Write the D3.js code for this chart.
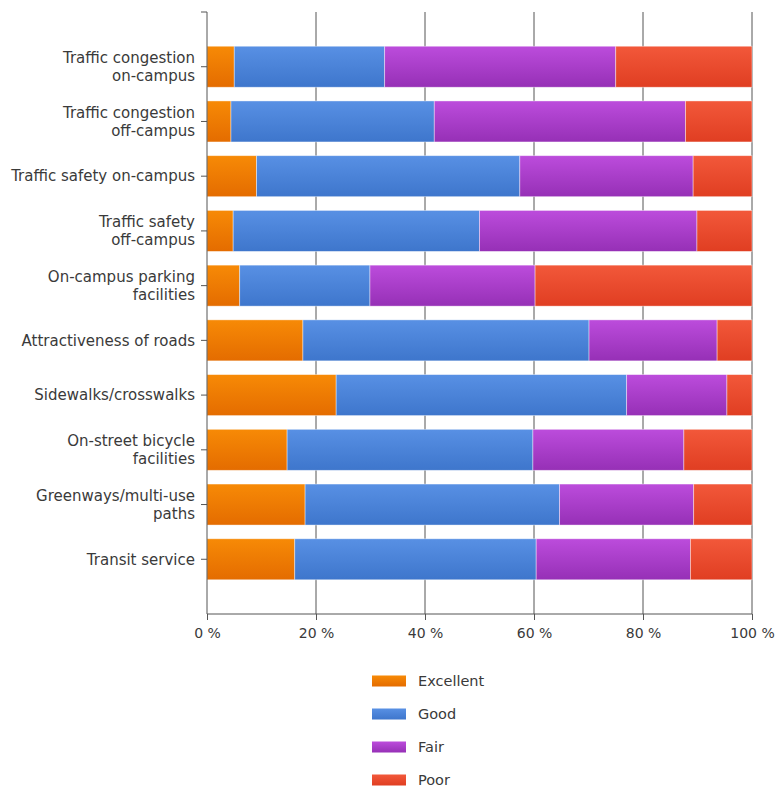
<!DOCTYPE html>
<html><head><meta charset="utf-8">
<script src="https://cdn.jsdelivr.net/npm/d3@7"></script>
<style>body{margin:0;background:#fff;} svg{display:block;} text{font-family:"DejaVu Sans",Verdana,sans-serif;}</style>
</head><body><svg id="c" width="775" height="791"></svg>
<script>
const categories = [
  ["Traffic congestion","on-campus"],
  ["Traffic congestion","off-campus"],
  ["Traffic safety on-campus"],
  ["Traffic safety","off-campus"],
  ["On-campus parking","facilities"],
  ["Attractiveness of roads"],
  ["Sidewalks/crosswalks"],
  ["On-street bicycle","facilities"],
  ["Greenways/multi-use","paths"],
  ["Transit service"]
];
const seriesNames = ["Excellent","Good","Fair","Poor"];
const excellent = [5.0, 4.4, 9.1, 4.8, 6.0, 17.6, 23.7, 14.7, 18.0, 16.1];
const good      = [27.6, 37.3, 48.3, 45.2, 23.9, 52.5, 53.3, 45.1, 46.7, 44.3];
const fair      = [42.4, 46.1, 31.8, 39.9, 30.3, 23.5, 18.4, 27.7, 24.6, 28.3];
const poor      = [25.0, 12.2, 10.8, 10.1, 39.8, 6.4, 4.6, 12.5, 10.7, 11.3];
const xTicks = [0, 20, 40, 60, 80, 100];
const colorsTop = ["#f78a06","#5890e4","#bc4cdc","#f2583a"];
const colorsBot = ["#e46c00","#3e76cc","#9630b6","#e03e22"];

(function(){
const svg = d3.select("#c");
const pl = 207, pr = 752, pt = 12, pb = 614;
const x = d3.scaleLinear().domain([0,100]).range([pl,pr]);
const idx = d3.range(categories.length);
const y = d3.scalePoint().domain([-1, ...idx, categories.length]).range([pt,pb]);
const barH = 41;
const font = "DejaVu Sans, Verdana, sans-serif";

const defs = svg.append("defs");
seriesNames.forEach((s,i)=>{
  const g = defs.append("linearGradient").attr("id","g"+i).attr("x1",0).attr("y1",0).attr("x2",0).attr("y2",1);
  g.append("stop").attr("offset","0%").attr("stop-color",colorsTop[i]);
  g.append("stop").attr("offset","100%").attr("stop-color",colorsBot[i]);
});

// gridlines
svg.append("g").selectAll("line").data(xTicks.slice(1)).join("line")
  .attr("x1",d=>x(d)).attr("x2",d=>x(d)).attr("y1",pt).attr("y2",pb)
  .attr("stroke","#555").attr("stroke-width",1);

const stackData = idx.map(i=>({i, Excellent:excellent[i], Good:good[i], Fair:fair[i], Poor:poor[i]}));
const stack = d3.stack().keys(seriesNames)(stackData);

svg.append("g").selectAll("g").data(stack).join("g")
  .attr("fill",(d,k)=>"url(#g"+k+")")
  .selectAll("rect").data(d=>d).join("rect")
  .attr("x",d=>x(d[0])).attr("width",d=>Math.max(0,x(Math.min(100,d[1]))-x(d[0])))
  .attr("y",d=>y(d.data.i)-barH/2).attr("height",barH)
  .attr("stroke","rgba(255,255,255,0.5)").attr("stroke-width",0.8);

// y axis
const yAxis = svg.append("g");
yAxis.append("line").attr("x1",pl).attr("x2",pl).attr("y1",pt).attr("y2",pb).attr("stroke","#555");
yAxis.append("line").attr("x1",pl-6).attr("x2",pl).attr("y1",pt).attr("y2",pt).attr("stroke","#555");
idx.forEach(i=>{
  const cy = y(i);
  yAxis.append("line").attr("x1",pl-6).attr("x2",pl).attr("y1",cy).attr("y2",cy).attr("stroke","#555");
  const lines = categories[i];
  const t = yAxis.append("text").attr("text-anchor","end").attr("font-size",15).attr("fill","#3a3a3a");
  lines.forEach((ln,k)=>{
    const off = lines.length===1 ? 0 : (k===0 ? -9 : 9);
    t.append("tspan").attr("x",195).attr("y",cy+off).attr("dy","0.35em").text(ln);
  });
});

// x axis
const xAxis = svg.append("g").attr("transform",`translate(0,${pb})`)
  .call(d3.axisBottom(x).tickValues(xTicks).tickSize(6).tickFormat(d=>d+" %"));
xAxis.select(".domain").attr("stroke","#555").attr("d",`M${pl},0H${pr}`);
xAxis.selectAll(".tick line").attr("stroke","#555");
xAxis.selectAll(".tick text").attr("font-size",14).attr("fill","#3a3a3a").attr("font-family",font).attr("dy","1.05em");

// legend
const lg = svg.append("g");
seriesNames.forEach((s,i)=>{
  const ly = 681 + i*33;
  lg.append("rect").attr("x",372).attr("y",ly-5.5).attr("width",34).attr("height",11).attr("fill","url(#g"+i+")");
  lg.append("text").attr("x",418).attr("y",ly).attr("dy","0.35em").attr("font-size",14.5).attr("fill","#3a3a3a").text(s);
});
})();
</script></body></html>
